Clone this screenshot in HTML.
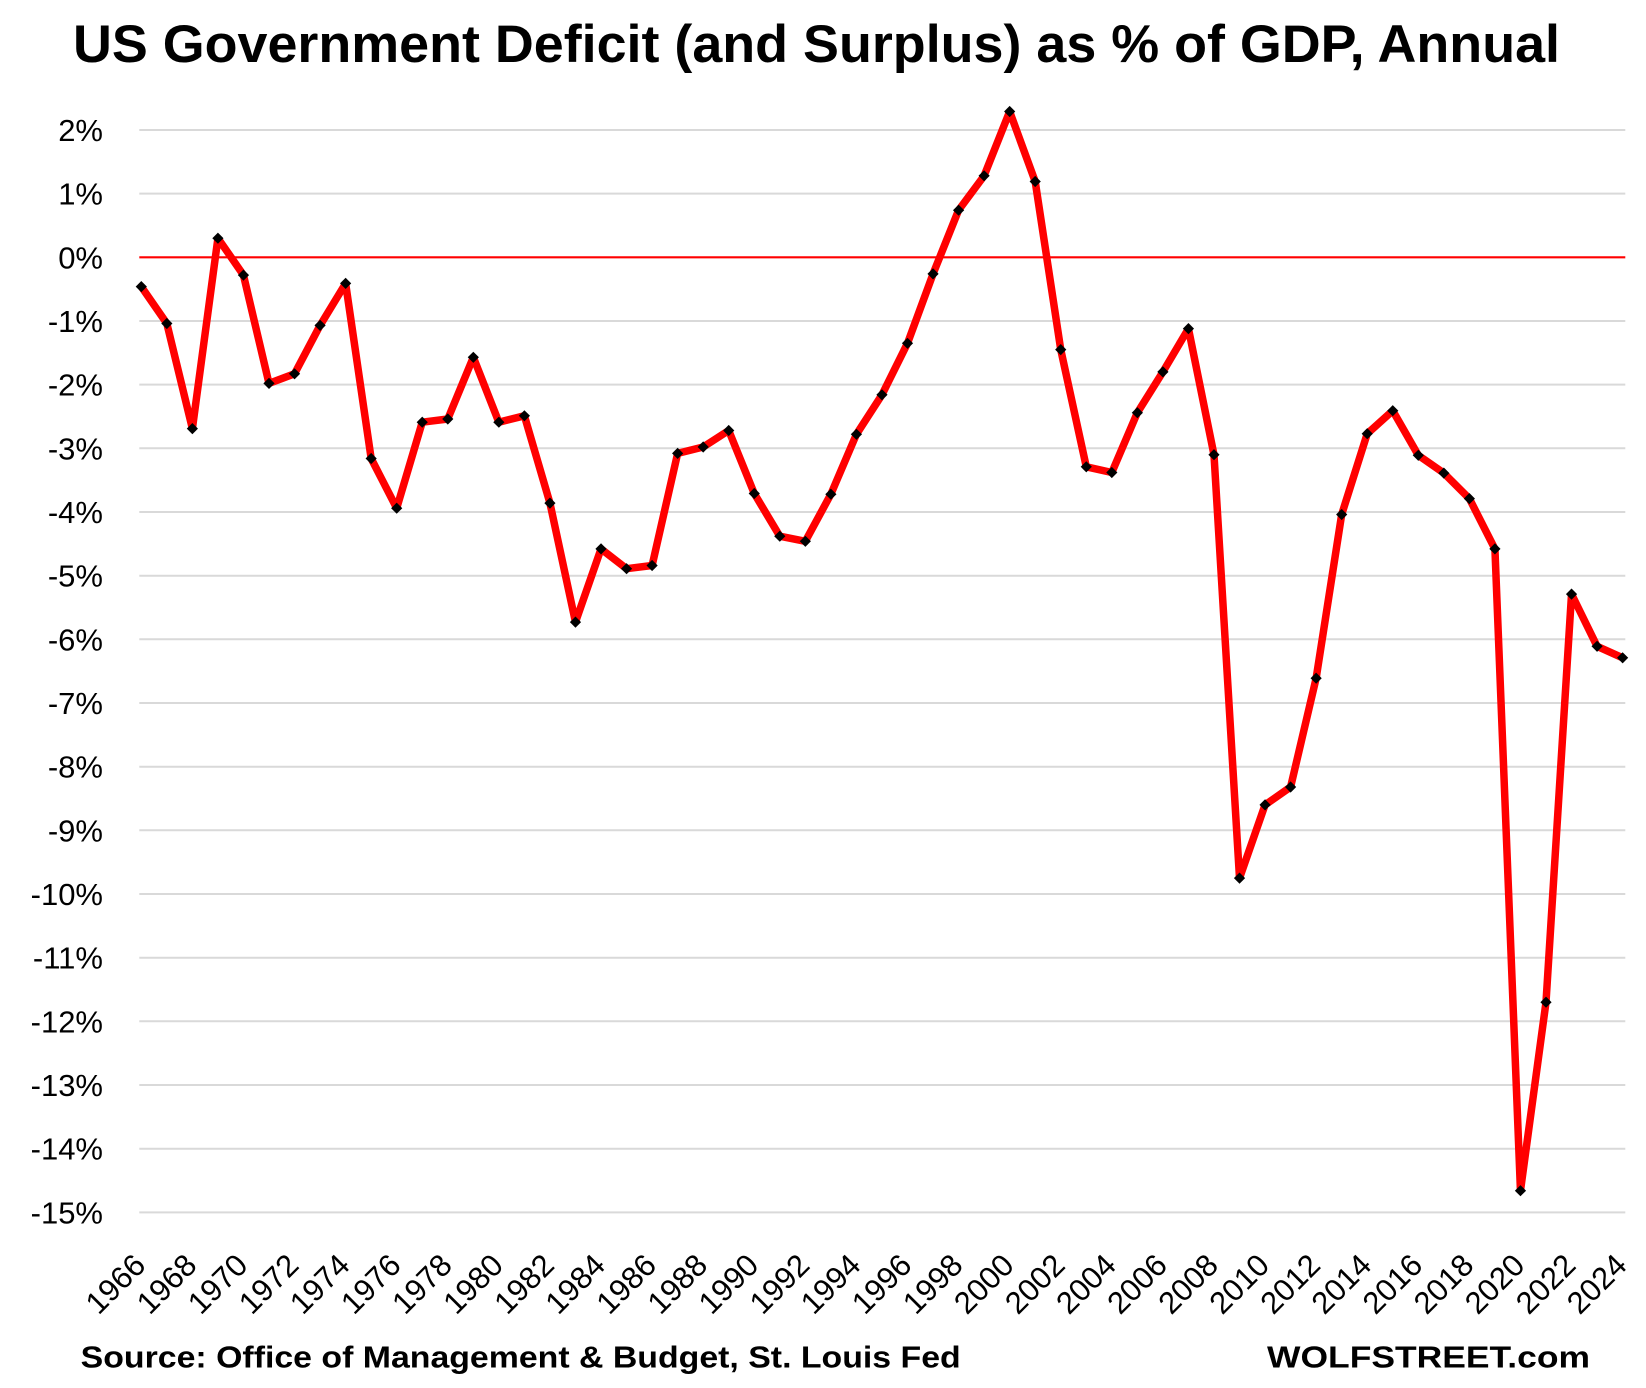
<!DOCTYPE html>
<html>
<head>
<meta charset="utf-8">
<style>
html,body{margin:0;padding:0;background:#fff;}
svg{display:block;}
text{font-family:"Liberation Sans",Arial,sans-serif;fill:#000;}
</style>
</head>
<body>
<svg width="1646" height="1388" viewBox="0 0 1646 1388" xmlns="http://www.w3.org/2000/svg">
<defs>
<marker id="dm" markerUnits="userSpaceOnUse" markerWidth="12" markerHeight="12" refX="6" refY="6" orient="0">
<path d="M6,0.4 L11.6,6 L6,11.6 L0.4,6 Z" fill="#000"/>
</marker>
</defs>
<rect width="1646" height="1388" fill="#fff"/>

<text x="73" y="62" font-size="53" font-weight="bold" textLength="1487" lengthAdjust="spacingAndGlyphs">US Government Deficit (and Surplus) as % of GDP, Annual</text>

<g stroke="#d9d9d9" stroke-width="2">
<line x1="139.3" x2="1625.3" y1="130.0" y2="130.0"/>
<line x1="139.3" x2="1625.3" y1="193.6" y2="193.6"/>
<line x1="139.3" x2="1625.3" y1="321.0" y2="321.0"/>
<line x1="139.3" x2="1625.3" y1="384.6" y2="384.6"/>
<line x1="139.3" x2="1625.3" y1="448.3" y2="448.3"/>
<line x1="139.3" x2="1625.3" y1="512.0" y2="512.0"/>
<line x1="139.3" x2="1625.3" y1="575.7" y2="575.7"/>
<line x1="139.3" x2="1625.3" y1="639.3" y2="639.3"/>
<line x1="139.3" x2="1625.3" y1="703.0" y2="703.0"/>
<line x1="139.3" x2="1625.3" y1="766.7" y2="766.7"/>
<line x1="139.3" x2="1625.3" y1="830.3" y2="830.3"/>
<line x1="139.3" x2="1625.3" y1="894.0" y2="894.0"/>
<line x1="139.3" x2="1625.3" y1="957.7" y2="957.7"/>
<line x1="139.3" x2="1625.3" y1="1021.3" y2="1021.3"/>
<line x1="139.3" x2="1625.3" y1="1085.0" y2="1085.0"/>
<line x1="139.3" x2="1625.3" y1="1148.7" y2="1148.7"/>
<line x1="139.3" x2="1625.3" y1="1212.4" y2="1212.4"/>
</g>
<line x1="139.3" x2="1625.3" y1="257.3" y2="257.3" stroke="#ff0000" stroke-width="2.2"/>

<g font-size="31" text-anchor="end">
<text x="103" y="141">2%</text>
<text x="103" y="204.6">1%</text>
<text x="103" y="268.3">0%</text>
<text x="103" y="332">-1%</text>
<text x="103" y="395.6">-2%</text>
<text x="103" y="459.3">-3%</text>
<text x="103" y="523">-4%</text>
<text x="103" y="586.7">-5%</text>
<text x="103" y="650.3">-6%</text>
<text x="103" y="714">-7%</text>
<text x="103" y="777.7">-8%</text>
<text x="103" y="841.3">-9%</text>
<text x="103" y="905">-10%</text>
<text x="103" y="968.7">-11%</text>
<text x="103" y="1032.3">-12%</text>
<text x="103" y="1096">-13%</text>
<text x="103" y="1159.7">-14%</text>
<text x="103" y="1223.4">-15%</text>
</g>

<polyline fill="none" stroke="#ff0000" stroke-width="7.5" stroke-linejoin="round" stroke-linecap="round"
marker-start="url(#dm)" marker-mid="url(#dm)" marker-end="url(#dm)"
points="141.3,286.6 166.84,323.5 192.38,428.6 217.92,238.2 243.46,275.1 269.0,383.4 294.54,373.8 320.08,325.4 345.62,283.4 371.16,458.5 396.7,508.2 422.24,422.2 447.78,419.0 473.32,357.3 498.86,422.2 524.4,415.8 549.94,503.1 575.48,622.1 601.02,548.9 626.56,568.7 652.1,565.5 677.64,453.4 703.18,447.0 728.72,430.5 754.26,493.5 779.8,536.2 805.34,541.3 830.88,494.2 856.42,434.3 881.96,394.8 907.5,343.3 933.04,273.9 958.58,210.2 984.12,175.8 1009.66,111.5 1035.2,181.5 1060.74,349.6 1086.28,466.8 1111.82,472.5 1137.36,412.7 1162.9,371.9 1188.44,328.6 1213.98,454.7 1239.52,878.1 1265.06,804.9 1290.6,787.0 1316.14,678.2 1341.68,514.5 1367.22,433.7 1392.76,410.7 1418.3,455.3 1443.84,473.1 1469.38,498.6 1494.92,548.9 1520.46,1190.7 1546.0,1002.2 1571.54,594.1 1597.08,646.3 1622.62,657.8"/>

<g font-size="31" text-anchor="end">
<text transform="translate(147.3,1267) rotate(-45)" textLength="69" lengthAdjust="spacingAndGlyphs">1966</text>
<text transform="translate(198.4,1267) rotate(-45)" textLength="69" lengthAdjust="spacingAndGlyphs">1968</text>
<text transform="translate(249.5,1267) rotate(-45)" textLength="69" lengthAdjust="spacingAndGlyphs">1970</text>
<text transform="translate(300.5,1267) rotate(-45)" textLength="69" lengthAdjust="spacingAndGlyphs">1972</text>
<text transform="translate(351.6,1267) rotate(-45)" textLength="69" lengthAdjust="spacingAndGlyphs">1974</text>
<text transform="translate(402.7,1267) rotate(-45)" textLength="69" lengthAdjust="spacingAndGlyphs">1976</text>
<text transform="translate(453.8,1267) rotate(-45)" textLength="69" lengthAdjust="spacingAndGlyphs">1978</text>
<text transform="translate(504.9,1267) rotate(-45)" textLength="69" lengthAdjust="spacingAndGlyphs">1980</text>
<text transform="translate(555.9,1267) rotate(-45)" textLength="69" lengthAdjust="spacingAndGlyphs">1982</text>
<text transform="translate(607.0,1267) rotate(-45)" textLength="69" lengthAdjust="spacingAndGlyphs">1984</text>
<text transform="translate(658.1,1267) rotate(-45)" textLength="69" lengthAdjust="spacingAndGlyphs">1986</text>
<text transform="translate(709.2,1267) rotate(-45)" textLength="69" lengthAdjust="spacingAndGlyphs">1988</text>
<text transform="translate(760.3,1267) rotate(-45)" textLength="69" lengthAdjust="spacingAndGlyphs">1990</text>
<text transform="translate(811.3,1267) rotate(-45)" textLength="69" lengthAdjust="spacingAndGlyphs">1992</text>
<text transform="translate(862.4,1267) rotate(-45)" textLength="69" lengthAdjust="spacingAndGlyphs">1994</text>
<text transform="translate(913.5,1267) rotate(-45)" textLength="69" lengthAdjust="spacingAndGlyphs">1996</text>
<text transform="translate(964.6,1267) rotate(-45)" textLength="69" lengthAdjust="spacingAndGlyphs">1998</text>
<text transform="translate(1015.7,1267) rotate(-45)" textLength="69" lengthAdjust="spacingAndGlyphs">2000</text>
<text transform="translate(1066.7,1267) rotate(-45)" textLength="69" lengthAdjust="spacingAndGlyphs">2002</text>
<text transform="translate(1117.8,1267) rotate(-45)" textLength="69" lengthAdjust="spacingAndGlyphs">2004</text>
<text transform="translate(1168.9,1267) rotate(-45)" textLength="69" lengthAdjust="spacingAndGlyphs">2006</text>
<text transform="translate(1220.0,1267) rotate(-45)" textLength="69" lengthAdjust="spacingAndGlyphs">2008</text>
<text transform="translate(1271.1,1267) rotate(-45)" textLength="69" lengthAdjust="spacingAndGlyphs">2010</text>
<text transform="translate(1322.1,1267) rotate(-45)" textLength="69" lengthAdjust="spacingAndGlyphs">2012</text>
<text transform="translate(1373.2,1267) rotate(-45)" textLength="69" lengthAdjust="spacingAndGlyphs">2014</text>
<text transform="translate(1424.3,1267) rotate(-45)" textLength="69" lengthAdjust="spacingAndGlyphs">2016</text>
<text transform="translate(1475.4,1267) rotate(-45)" textLength="69" lengthAdjust="spacingAndGlyphs">2018</text>
<text transform="translate(1526.5,1267) rotate(-45)" textLength="69" lengthAdjust="spacingAndGlyphs">2020</text>
<text transform="translate(1577.5,1267) rotate(-45)" textLength="69" lengthAdjust="spacingAndGlyphs">2022</text>
<text transform="translate(1628.6,1267) rotate(-45)" textLength="69" lengthAdjust="spacingAndGlyphs">2024</text>
</g>

<text x="80.7" y="1367.7" font-size="31" font-weight="bold" textLength="880" lengthAdjust="spacingAndGlyphs">Source: Office of Management &amp; Budget, St. Louis Fed</text>
<text x="1267" y="1367.7" font-size="31" font-weight="bold" textLength="323" lengthAdjust="spacingAndGlyphs">WOLFSTREET.com</text>
</svg>
</body>
</html>
